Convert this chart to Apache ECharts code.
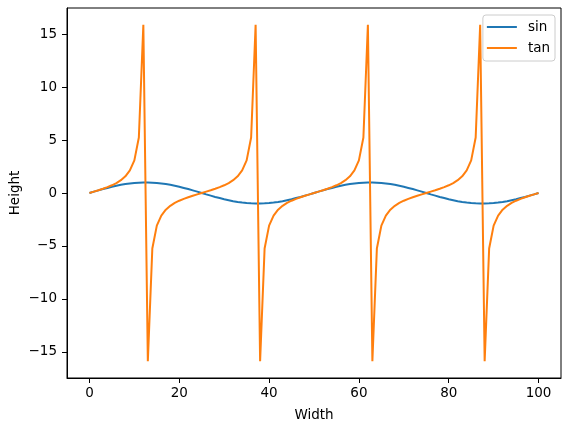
<!DOCTYPE html>
<html>
<head>
<meta charset="utf-8">
<script src="https://cdn.jsdelivr.net/npm/echarts@6/dist/echarts.min.js"></script>
<style>
  html, body { margin: 0; padding: 0; background: #fff; }
  #chart { width: 571px; height: 430px; }
</style>
</head>
<body>
<div id="chart"></div>
<script>
// x positions 0..100
const widthValues = [
  0, 1, 2, 3, 4, 5, 6, 7, 8, 9, 10, 11, 12, 13, 14, 15, 16, 17, 18, 19, 20,
  21, 22, 23, 24, 25, 26, 27, 28, 29, 30, 31, 32, 33, 34, 35, 36, 37, 38, 39, 40,
  41, 42, 43, 44, 45, 46, 47, 48, 49, 50, 51, 52, 53, 54, 55, 56, 57, 58, 59, 60,
  61, 62, 63, 64, 65, 66, 67, 68, 69, 70, 71, 72, 73, 74, 75, 76, 77, 78, 79, 80,
  81, 82, 83, 84, 85, 86, 87, 88, 89, 90, 91, 92, 93, 94, 95, 96, 97, 98, 99, 100
];

const sinValues = [
  0.00, 0.13, 0.25, 0.37, 0.48, 0.59, 0.68, 0.77, 0.84, 0.90, 0.95, 0.98, 1.00, 1.00, 0.98, 0.95, 0.90, 0.84, 0.77, 0.68, 0.59,
  0.48, 0.37, 0.25, 0.13, 0.00, -0.13, -0.25, -0.37, -0.48, -0.59, -0.68, -0.77, -0.84, -0.90, -0.95, -0.98, -1.00, -1.00, -0.98, -0.95,
  -0.90, -0.84, -0.77, -0.68, -0.59, -0.48, -0.37, -0.25, -0.13, 0.00, 0.13, 0.25, 0.37, 0.48, 0.59, 0.68, 0.77, 0.84, 0.90, 0.95,
  0.98, 1.00, 1.00, 0.98, 0.95, 0.90, 0.84, 0.77, 0.68, 0.59, 0.48, 0.37, 0.25, 0.13, 0.00, -0.13, -0.25, -0.37, -0.48, -0.59,
  -0.68, -0.77, -0.84, -0.90, -0.95, -0.98, -1.00, -1.00, -0.98, -0.95, -0.90, -0.84, -0.77, -0.68, -0.59, -0.48, -0.37, -0.25, -0.13, 0.00
];

const tanValues = [
  0.00, 0.13, 0.26, 0.40, 0.55, 0.73, 0.94, 1.21, 1.58, 2.13, 3.08, 5.24, 15.89, -15.89, -5.24, -3.08, -2.13, -1.58, -1.21, -0.94, -0.73,
  -0.55, -0.40, -0.26, -0.13, 0.00, 0.13, 0.26, 0.40, 0.55, 0.73, 0.94, 1.21, 1.58, 2.13, 3.08, 5.24, 15.89, -15.89, -5.24, -3.08,
  -2.13, -1.58, -1.21, -0.94, -0.73, -0.55, -0.40, -0.26, -0.13, 0.00, 0.13, 0.26, 0.40, 0.55, 0.73, 0.94, 1.21, 1.58, 2.13, 3.08,
  5.24, 15.89, -15.89, -5.24, -3.08, -2.13, -1.58, -1.21, -0.94, -0.73, -0.55, -0.40, -0.26, -0.13, 0.00, 0.13, 0.26, 0.40, 0.55, 0.73,
  0.94, 1.21, 1.58, 2.13, 3.08, 5.24, 15.89, -15.89, -5.24, -3.08, -2.13, -1.58, -1.21, -0.94, -0.73, -0.55, -0.40, -0.26, -0.13, 0.00
];

const xTicks = [0, 20, 40, 60, 80, 100];
const yTicks = [-15, -10, -5, 0, 5, 10, 15];

const font = 'DejaVu Sans';
const fs = 13.5;
const chart = echarts.init(document.getElementById('chart'), null, { renderer: 'canvas' });

function pairs(ys) {
  return widthValues.map((x, i) => [x, ys[i]]);
}

const option = {
  animation: false,
  backgroundColor: '#fff',
  textStyle: { fontFamily: font },
  grid: {
    left: 67, right: 10, top: 8, bottom: 52,
    outerBoundsMode: 'none',
    containLabel: false,
    show: true, borderColor: '#000', borderWidth: 1, backgroundColor: '#fff'
  },
  legend: {
    orient: 'vertical',
    right: 16, top: 15,
    padding: [5, 5, 6, 4],
    itemGap: 7,
    itemWidth: 30, itemHeight: 2,
    icon: 'rect',
    backgroundColor: 'rgba(255,255,255,0.8)',
    borderColor: '#ccc', borderWidth: 1, borderRadius: 3,
    textStyle: { fontFamily: font, fontSize: fs, color: '#000', padding: [0, 0, 0, 6] },
    data: ['sin', 'tan']
  },
  xAxis: {
    type: 'value',
    min: -5, max: 105,
    name: 'Width',
    nameLocation: 'middle',
    nameGap: 30,
    nameTextStyle: { fontFamily: font, fontSize: fs, color: '#000' },
    axisLine: { show: true, onZero: false, lineStyle: { color: '#000', width: 1 } },
    axisTick: { show: true, length: 5, customValues: xTicks, lineStyle: { color: '#000' } },
    axisLabel: { customValues: xTicks, margin: 8, fontFamily: font, fontSize: fs, color: '#000' },
    splitLine: { show: false }
  },
  yAxis: {
    type: 'value',
    min: -17.48, max: 17.48,
    name: 'Height',
    nameLocation: 'middle',
    nameGap: 45,
    nameMoveOverlap: false,
    nameTextStyle: { fontFamily: font, fontSize: fs, color: '#000' },
    axisLine: { show: true, onZero: false, lineStyle: { color: '#000', width: 1 } },
    axisTick: { show: true, length: 5, customValues: yTicks, lineStyle: { color: '#000' } },
    axisLabel: {
      customValues: yTicks, margin: 10, fontFamily: font, fontSize: fs, color: '#000',
      formatter: v => (v < 0 ? '\u2212' + Math.abs(v) : String(v))
    },
    splitLine: { show: false }
  },
  series: [
    {
      name: 'sin', type: 'line', data: pairs(sinValues),
      showSymbol: false, symbol: 'none',
      color: '#1f77b4', lineStyle: { color: '#1f77b4', width: 2 }
    },
    {
      name: 'tan', type: 'line', data: pairs(tanValues),
      showSymbol: false, symbol: 'none',
      color: '#ff7f0e', lineStyle: { color: '#ff7f0e', width: 2 }
    }
  ]
};

chart.setOption(option);
</script>
</body>
</html>
